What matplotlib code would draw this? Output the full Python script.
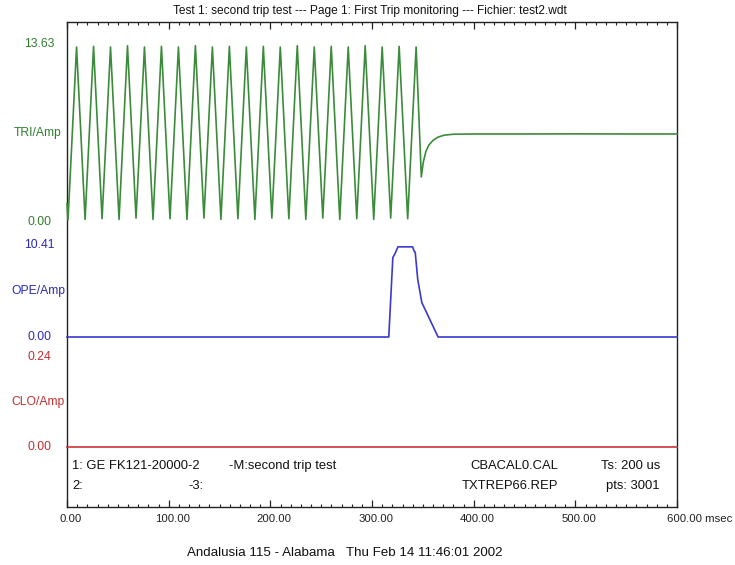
import matplotlib
matplotlib.use("Agg")
import matplotlib.pyplot as plt
import matplotlib.transforms as mtransforms
from matplotlib.ticker import MultipleLocator

plt.rcParams['font.family'] = ['Liberation Sans', 'DejaVu Sans']

# ---------------- data ----------------
title = "Test 1: second trip test --- Page 1: First Trip monitoring --- Fichier: test2.wdt"
footer_bottom = "Andalusia 115 - Alabama   Thu Feb 14 11:46:01 2002"

x_ticks = [0, 100, 200, 300, 400, 500, 600]
x_tick_labels = ["0.00", "100.00", "200.00", "300.00", "400.00", "500.00", "600.00 msec"]

# TRI/Amp channel: extrema of the oscillation, then dip and recovery after trip
tri_trough_t = [1.0, 17.8, 34.5, 51.2, 67.9, 84.6, 101.3, 118.0, 134.7, 151.4, 168.1,
                184.8, 201.5, 218.2, 234.9, 251.6, 268.3, 285.0, 301.7, 318.4, 335.1]
tri_trough_v = [0.15, 0.2, 0.25, 0.2, 0.3, 0.2, 0.25, 0.2, 0.3, 0.2, 0.25,
                0.2, 0.3, 0.25, 0.2, 0.3, 0.2, 0.25, 0.2, 0.3, 0.25]
tri_peak_t = [9.4, 26.1, 42.8, 59.5, 76.2, 92.9, 109.6, 126.3, 143.0, 159.7, 176.4,
              193.1, 209.8, 226.5, 243.2, 259.9, 276.6, 293.3, 310.0, 326.7, 343.4]
tri_peak_v = [13.4, 13.45, 13.4, 13.5, 13.4, 13.45, 13.4, 13.5, 13.4, 13.45, 13.4,
              13.45, 13.4, 13.5, 13.4, 13.45, 13.4, 13.5, 13.4, 13.45, 13.4]
tri_start_t, tri_start_v = [0.0], [1.4]
tri_tail_t = [348.5, 350.5, 353.0, 356.0, 360.0, 365.0, 371.0, 380.0, 400.0, 450.0, 500.0, 550.0, 600.0]
tri_tail_v = [3.45, 4.6, 5.4, 5.9, 6.25, 6.5, 6.65, 6.72, 6.74, 6.74, 6.75, 6.74, 6.74]
tri_max = 13.63

# OPE/Amp channel
ope_t = [0.0, 316.5, 320.5, 322.5, 325.5, 340.0, 341.5, 342.5, 345.0, 349.0, 365.0, 600.0]
ope_v = [0.0, 0.0, 9.0, 9.4, 10.2, 10.2, 9.7, 9.6, 6.5, 3.9, 0.0, 0.0]
ope_max = 10.41

# CLO/Amp channel
clo_t = [0.0, 600.0]
clo_v = [0.0, 0.0]
clo_max = 0.24

info_rows = [
    ["1: GE FK121-20000-2", "-M:second trip test", "CBACAL0.CAL", "Ts: 200 us"],
    ["2:", "-3:", "TXTREP66.REP", "pts: 3001"],
]

# ---------------- layout ----------------
W, H = 735, 565
fig = plt.figure(figsize=(W / 100, H / 100), dpi=100)

def fx(px):
    return px / W

def fy(py):
    return (H - py) / H

L, R, T, B = 67, 677, 22, 507

frame = fig.add_axes([fx(L), fy(B), fx(R - L), (B - T) / H])
frame.set_xlim(0, 600)
frame.set_ylim(0, 1)
frame.set_yticks([])
frame.xaxis.set_major_locator(MultipleLocator(100))
frame.xaxis.set_minor_locator(MultipleLocator(10))
frame.tick_params(axis='x', which='both', direction='in', top=True, bottom=True,
                  colors='#222222', labelsize=8.2, labelcolor='#222222')
frame.tick_params(axis='x', which='major', length=5, width=0.9, pad=5)
frame.tick_params(axis='x', which='minor', length=2.5, width=0.8)
frame.set_xticks(x_ticks)
frame.set_xticklabels(x_tick_labels)
for sp in frame.spines.values():
    sp.set_color('#222222')
    sp.set_linewidth(1.0)
for i, lab in enumerate(frame.get_xticklabels()):
    if i == len(x_ticks) - 1:
        lab.set_ha('left')
        off = mtransforms.ScaledTranslation(-10 / 100, 0, fig.dpi_scale_trans)
    else:
        off = mtransforms.ScaledTranslation(4 / 100, 0, fig.dpi_scale_trans)
    lab.set_transform(lab.get_transform() + off)

def channel(top_px, bot_px, ymax):
    ax = fig.add_axes([fx(L), fy(bot_px), fx(R - L), (bot_px - top_px) / H])
    ax.set_xlim(0, 600)
    ax.set_ylim(0, ymax)
    ax.axis('off')
    return ax

green, blue, red = '#3a8c3a', '#3a3ad0', '#cc3333'
green_t, blue_t, red_t = '#2f7f2f', '#2a2ab8', '#c03030'

ax_tri = channel(44, 222, tri_max)
ax_ope = channel(245, 337, ope_max)
ax_clo = channel(357, 447, clo_max)

# assemble TRI trace in time order
pts = list(zip(tri_start_t, tri_start_v)) + list(zip(tri_trough_t, tri_trough_v)) + \
      list(zip(tri_peak_t, tri_peak_v))
pts.sort()
pts += list(zip(tri_tail_t, tri_tail_v))
ax_tri.plot([p[0] for p in pts], [p[1] for p in pts], color=green, lw=1.2, clip_on=False)
ax_ope.plot(ope_t, ope_v, color=blue, lw=1.2, clip_on=False)
ax_clo.plot(clo_t, clo_v, color=red, lw=1.2, clip_on=False)

def side_labels(ax, ymax, name, col):
    tr = mtransforms.blended_transform_factory(fig.transFigure, ax.transAxes)
    ax.text(fx(39), 1.0, f"{ymax:.2f}", transform=tr, ha='center', va='center',
            color=col, fontsize=8.7)
    ax.text(fx(39), 0.0, "0.00", transform=tr, ha='center', va='center',
            color=col, fontsize=8.7)
    ax.text(fx(38), 0.5, name, transform=tr, ha='center', va='center',
            color=col, fontsize=8.7)

side_labels(ax_tri, tri_max, "TRI/Amp", green_t)
side_labels(ax_ope, ope_max, "OPE/Amp", blue_t)
side_labels(ax_clo, clo_max, "CLO/Amp", red_t)

# title
fig.text(fx(370), fy(11), title, ha='center', va='center', fontsize=8.6, color='#111111')

# info rows inside frame
row_y = [466, 486]
fs_info = 9.4
for r, row in enumerate(info_rows):
    y = fy(row_y[r])
    fig.text(fx(72), y, row[0], ha='left', va='center', fontsize=fs_info, color='#111111')
    fig.text(fx(229 if r == 0 else 188), y, row[1], ha='left', va='center', fontsize=fs_info, color='#111111')
    fig.text(fx(558), y, row[2], ha='right', va='center', fontsize=fs_info, color='#111111')
    fig.text(fx(660), y, row[3], ha='right', va='center', fontsize=fs_info, color='#111111')

fig.text(fx(345), fy(553), footer_bottom, ha='center', va='center', fontsize=9.6, color='#111111')

fig.savefig("out.png", dpi=100, facecolor='white')
